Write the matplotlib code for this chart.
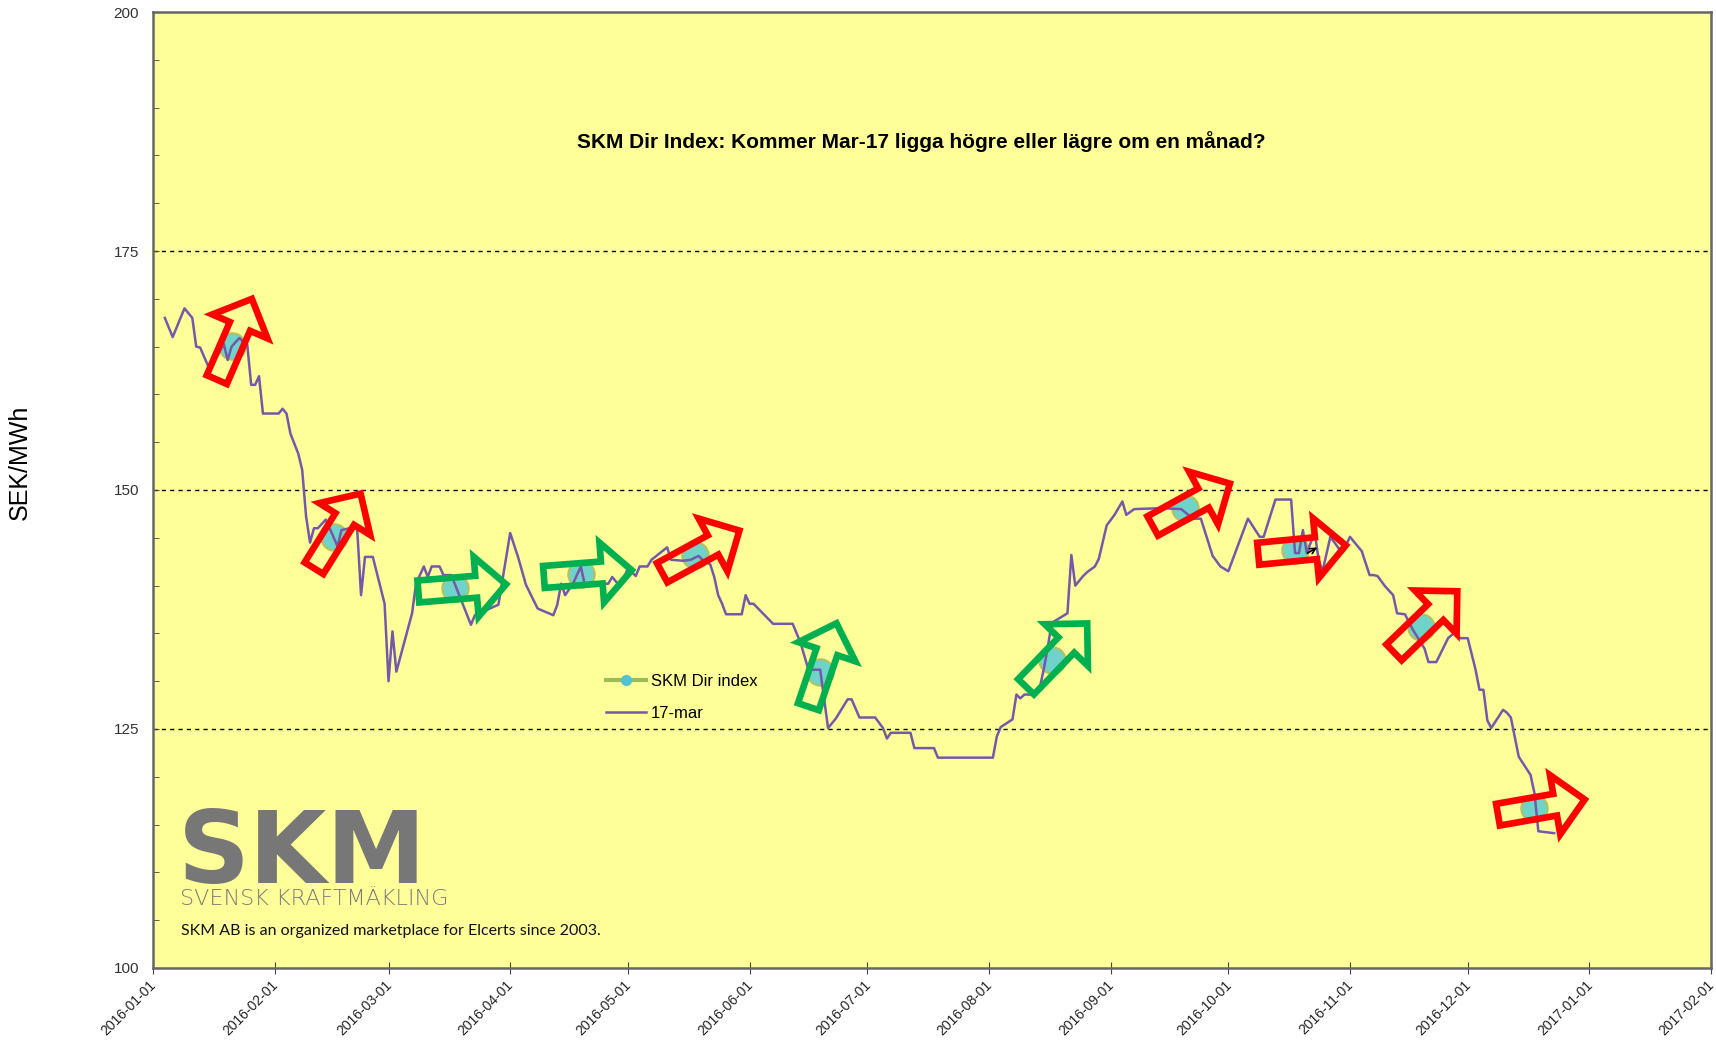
import numpy as np
import pandas as pd
import matplotlib
matplotlib.use('Agg')
import matplotlib.pyplot as plt
import matplotlib.dates as mdates
import matplotlib.transforms as mtransforms
from matplotlib.patches import Polygon
from matplotlib.lines import Line2D

# 17-mar forward price, day of year 2016 (0 = 2016-01-01) and SEK/MWh
mar17_days = [3, 5, 8, 10, 11, 12, 14, 15, 17, 18, 19, 20, 22, 23, 24, 25, 26, 27, 28,
              32, 33, 34, 35, 37, 38, 39, 40, 41, 42, 44, 45, 47, 48, 50, 52, 53, 54, 56,
              59, 60, 61, 62, 66, 67, 69, 70, 71, 73, 74, 76, 81, 82, 88, 91, 93, 95, 98,
              102, 103, 104, 105, 107, 109, 110, 112, 116, 117, 119, 121, 123, 124, 126,
              127, 131, 132, 135, 137, 139, 140, 142, 143, 144, 145, 146, 150, 151, 152,
              153, 158, 163, 165, 167, 170, 172, 174, 177, 178, 180, 184, 186, 187, 188,
              193, 194, 199, 200, 214, 215, 216, 219, 220, 221, 222, 224, 226, 227, 228,
              229, 231, 233, 234, 235, 237, 238, 240, 241, 243, 245, 247, 248, 250, 257,
              262, 265, 267, 270, 272, 274, 279, 282, 283, 286, 290, 291, 292, 293, 294,
              296, 297, 298, 300, 303, 305, 308, 310, 311, 312, 314, 316, 317, 319, 321,
              324, 325, 327, 330, 332, 333, 335, 337, 338, 339, 340, 341, 344, 345, 346,
              348, 351, 352, 353, 357]
mar17_vals = [168.0, 166.0, 169.0, 168.0, 165.0, 164.9, 163.0, 163.0, 164.5, 165.3, 163.6,
              165.0, 165.9, 165.5, 165.2, 161.0, 161.0, 161.9, 158.0,
              158.0, 158.5, 158.0, 155.9, 153.8, 152.1, 147.2, 144.5, 146.0, 146.0, 146.9,
              146.0, 144.1, 145.8, 146.0, 146.0, 139.0, 143.0, 143.0,
              138.1, 130.0, 135.2, 131.0, 137.1, 140.2, 142.0, 140.9, 142.0, 142.0, 141.1,
              141.1, 135.9, 136.9, 138.0, 145.5, 143.0, 140.1, 137.6,
              136.9, 138.0, 140.2, 139.0, 140.2, 142.0, 140.1, 140.1, 140.2, 140.9, 139.9,
              141.8, 141.0, 142.0, 142.0,
              142.7, 144.0, 142.7, 142.6, 142.7, 143.1, 142.7, 142.2, 140.9, 139.0, 138.1,
              137.0, 137.0, 139.0, 138.1,
              138.1, 136.0, 136.0, 134.0, 131.2, 131.2, 125.1, 126.1, 128.1, 128.1, 126.2,
              126.2, 125.1, 124.0, 124.6,
              124.6, 123.0, 123.0, 122.0, 122.0, 124.2, 125.2, 126.0, 128.6, 128.2, 128.6,
              128.6, 129.4, 131.3, 133.6,
              136.1, 136.6, 137.1, 143.2, 140.0, 141.0, 141.4, 142.0, 142.8, 146.3, 147.4,
              148.8, 147.4, 148.0, 148.1,
              148.0, 147.0, 147.0, 143.1, 142.0, 141.5, 147.0, 145.1, 145.1, 149.0, 149.0,
              143.4, 143.4, 145.8, 143.4,
              145.6, 142.7, 141.5, 145.1, 143.4, 145.1, 143.6, 141.1, 141.1, 141.0, 139.9,
              139.0, 137.1, 137.0, 135.4,
              133.4, 132.0, 132.0, 134.5, 135.2, 134.5, 134.5, 131.2, 129.1, 129.1, 125.9,
              125.1, 127.0, 126.7, 126.2,
              122.1, 120.2, 118.3, 114.3, 114.1]

# SKM Dir index points
dir_days = [20, 46, 77, 109, 138, 170, 229, 263, 291, 323, 352]
dir_vals = [165.1, 145.1, 139.7, 141.2, 143.2, 131.0, 132.2, 148.1, 143.7, 135.7, 116.7]

# direction arrow per point: colour, angle (deg)
arrow_colors = ['red', 'red', 'green', 'green', 'red', 'green', 'green', 'red', 'red', 'red', 'red']
arrow_angles = [66.5, 58, 4.7, 4.4, 28.6, 71.4, 46, 28.8, 5.5, 44, 9.9]

start = pd.Timestamp('2016-01-01')
mar17_dates = [start + pd.Timedelta(days=d) for d in mar17_days]
dir_dates = [start + pd.Timedelta(days=d) for d in dir_days]

fig = plt.figure(figsize=(17.16, 10.47), dpi=100)
ax = fig.add_axes([0.0892, 0.0755, 0.9079, 0.9130])
ax.set_facecolor('#ffff99')

ax.plot(dir_dates, dir_vals, linestyle='none', marker='o', markersize=19,
        markerfacecolor='#6fd3ca', markeredgecolor='#b5c25a', markeredgewidth=1.5, zorder=2)
ax.plot(mar17_dates, mar17_vals, color='#7459aa', lw=1.8, zorder=3)

ax.set_xlim(pd.Timestamp('2016-01-01'), pd.Timestamp('2017-02-01'))
ax.set_ylim(100, 200)

# block arrows, drawn in pixel units around each point
red_green = {'red': '#ff0000', 'green': '#00b050'}
w, hw, hl = 22, 60, 30
for d, v, c, ang in zip(dir_dates, dir_vals, arrow_colors, arrow_angles):
    L = 88
    shape = np.array([[0, -w / 2], [L - hl, -w / 2], [L - hl, -hw / 2], [L, 0],
                      [L - hl, hw / 2], [L - hl, w / 2], [0, w / 2]])
    a = np.deg2rad(ang)
    rot = np.array([[np.cos(a), -np.sin(a)], [np.sin(a), np.cos(a)]])
    pts = shape @ rot.T
    # tail sits a bit behind the point
    pts = pts - np.array([np.cos(a), np.sin(a)]) * 37
    pts = pts / fig.dpi
    tr = fig.dpi_scale_trans + mtransforms.ScaledTranslation(mdates.date2num(d), v, ax.transData)
    ax.add_patch(Polygon(pts, closed=True, fill=False, edgecolor=red_green[c],
                         lw=4.8, joinstyle='miter', transform=tr, zorder=4))

# small black arrow inside the Oct arrow
p0 = mtransforms.offset_copy(ax.transData, fig, x=9, y=-2, units='points')
p1 = mtransforms.offset_copy(ax.transData, fig, x=16, y=2, units='points')
xy9 = (mdates.date2num(dir_dates[8]), dir_vals[8])
ax.annotate('', xy=xy9, xycoords=p1, xytext=xy9, textcoords=p0,
            arrowprops=dict(arrowstyle='->', color='black', lw=1.2, shrinkA=0, shrinkB=0),
            zorder=5)

arial = ['Liberation Sans', 'DejaVu Sans']

for yv in [125, 150, 175]:
    ax.axhline(yv, color='black', lw=1, linestyle=(0, (3, 3)), zorder=1)

ax.set_yticks([100, 125, 150, 175, 200])
ax.set_yticks(np.arange(100, 201, 5), minor=True)
ax.tick_params(axis='y', which='both', direction='in', length=4, color='#444444')
ax.tick_params(axis='y', labelsize=11, labelcolor='#333333', pad=10)
for lab in ax.get_yticklabels():
    lab.set_family(arial)

months = pd.date_range('2016-01-01', '2017-02-01', freq='MS')
ax.set_xticks(months)
ax.set_xticklabels([m.strftime('%Y-%m-%d') for m in months], rotation=45, ha='right',
                   rotation_mode='anchor', fontsize=10, family=arial, color='#222222')
ax.tick_params(axis='x', direction='inout', length=8, color='#444444', pad=3)
shift = mtransforms.ScaledTranslation(-4 / 100, 0, fig.dpi_scale_trans)
for lab in ax.get_xticklabels():
    lab.set_transform(lab.get_transform() + shift)

for s in ax.spines.values():
    s.set_color('#666666')
    s.set_linewidth(1.8)

ax.text(0.493, 0.865, 'SKM Dir Index: Kommer Mar-17 ligga högre eller lägre om en månad?',
        transform=ax.transAxes, ha='center', va='center', fontsize=15, fontweight='bold',
        family=arial)

fig.text(20 / 1716, 1 - 462 / 1047, 'SEK/MWh', rotation=90, ha='center', va='center',
         fontsize=18, family=arial)

# logo
ax.text(0.016, 0.0889, 'SKM', transform=ax.transAxes, fontsize=72, fontweight='bold',
        color='#777777', va='baseline', ha='left', family='DejaVu Sans')
ax.text(0.017, 0.0655, 'SVENSK KRAFTMÄKLING', transform=ax.transAxes, fontsize=16,
        color='#7a7a7a', va='baseline', ha='left', family='DejaVu Sans', fontweight='light')
ax.text(0.018, 0.0345, 'SKM AB is an organized marketplace for Elcerts since 2003.',
        transform=ax.transAxes, fontsize=11.5, color='#111111', va='baseline', ha='left',
        family=['Lato', 'DejaVu Sans'])

handles = [Line2D([], [], color='#9bbb59', lw=3, marker='o', markersize=7,
                  markerfacecolor='#4fc3d0', markeredgecolor='#4fc3d0'),
           Line2D([], [], color='#7459aa', lw=1.8)]
leg = ax.legend(handles, ['SKM Dir index', '17-mar'], loc='upper left',
                bbox_to_anchor=(0.281, 0.323), frameon=False, handlelength=2.4,
                labelspacing=1.0, handletextpad=0.3, prop={'family': arial, 'size': 12})

fig.savefig('out.png', dpi=100)
